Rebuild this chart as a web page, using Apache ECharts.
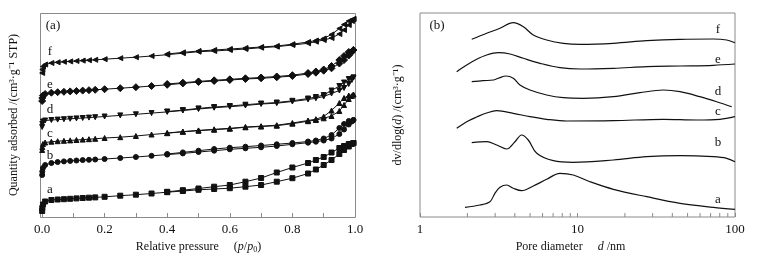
<!DOCTYPE html>
<html>
<head>
<meta charset="utf-8">
<script src="https://cdn.jsdelivr.net/npm/echarts@6/dist/echarts.min.js"></script>
<style>
  html, body { margin: 0; padding: 0; background: #fff; }
  #container { width: 771px; height: 261px; }
</style>
</head>
<body>
<div id="container"></div>
<script>
// (a) isotherms: shared pressure points for adsorption / desorption branches
const pAds = [0.0005, 0.001, 0.003, 0.01, 0.03, 0.05, 0.07, 0.09, 0.11, 0.13, 0.15, 0.17, 0.2, 0.25, 0.3, 0.35, 0.4, 0.45, 0.5, 0.55, 0.6, 0.65, 0.7, 0.75, 0.8, 0.85, 0.875, 0.9, 0.925, 0.95, 0.965, 0.98, 0.99, 0.995]
const pDes = [0.995, 0.98, 0.965, 0.95, 0.925, 0.9, 0.875, 0.85, 0.8, 0.75, 0.7, 0.65, 0.6, 0.55, 0.5, 0.45, 0.4]

const adsA = [6, 9, 12.5, 15.5, 17, 17.5, 17.8, 18.2, 18.6, 19, 19.3, 19.6, 20.2, 21.3, 22.3, 23.5, 24.8, 26, 27.2, 28, 28.8, 30.3, 32, 35.3, 38.8, 43.5, 47.5, 52, 57, 63, 67, 70.5, 73, 74]
const desA = [74, 73, 71, 69, 64.5, 60, 57, 54, 49.5, 44.5, 39, 35.3, 32, 30.3, 28.5, 26.8, 25.2]
const adsB = [42, 45.5, 49, 52, 54, 55, 55.6, 56.1, 56.5, 56.9, 57.2, 57.5, 58, 59, 60, 61.2, 62.4, 63.6, 65, 66.3, 67.7, 68.7, 69.7, 71, 72.7, 74.3, 75.3, 76.5, 78.5, 83, 87.5, 92.5, 95.5, 97]
const desB = [97, 96, 93, 89, 82, 78.5, 76.5, 75.5, 74, 72.7, 71.5, 70.3, 69.3, 68, 66.3, 64.6, 63]
const adsC = [67, 70, 73, 74.5, 75.3, 75.8, 76.2, 76.6, 77, 77.4, 77.8, 78.2, 79, 79.8, 81, 82.5, 83.8, 85.2, 86.3, 87.3, 88.3, 89.7, 90.5, 91.3, 93.3, 95.8, 97, 98.7, 101, 106, 112, 118, 121, 122.5]
const desC = [122.5, 121.5, 119, 114, 106.5, 100.5, 97.8, 96.5, 94, 91.8, 90.8, 90, 88.7, 87.7, 86.6, 85.4, 84]
const adsD = [90, 93, 95.5, 96.5, 97, 97.4, 97.8, 98.2, 98.6, 99, 99.4, 99.8, 100.5, 101.6, 102.7, 103.9, 105.1, 106.5, 108, 109.3, 110.3, 111.5, 113, 113.8, 115.5, 117.5, 118.7, 120.5, 123.5, 126.5, 129, 133, 137, 139.5]
const desD = [139.5, 138, 134.5, 131, 126.5, 122, 120, 118.5, 116.2, 114.5, 113.5, 112.3, 111, 110, 108.6, 106.9, 105.5]
const adsE = [116, 119, 121.5, 123, 124.3, 124.8, 125.2, 125.6, 126, 126.4, 126.8, 127.2, 127.8, 128.8, 129.8, 131, 132.2, 133.6, 135, 136, 137, 138, 138.7, 139.7, 141, 143, 144.3, 146.3, 148.7, 153.5, 157, 161.5, 165, 167]
const desE = [167, 165, 161, 157, 151, 147.5, 145.5, 144, 141.8, 140.5, 139.5, 138.7, 137.7, 136.7, 135.6, 134.3, 133]
const adsF = [144, 147.5, 150.5, 152.5, 154, 154.7, 155.2, 155.6, 156, 156.4, 156.8, 157.2, 157.8, 158.8, 159.8, 161, 162.3, 163.8, 165.3, 166, 167, 168, 169.3, 170.3, 172, 173.7, 175.3, 177, 179, 183, 187, 192, 196, 198]
const desF = [198, 196, 192.5, 188.5, 182.5, 178.5, 176.5, 175, 172.8, 171, 170, 169, 168, 167, 166, 164.6, 163]

// (b) pore size distributions: diameter (nm) and dv/dlog(d) (offset, arb. units)
const psdA_d = [1.93, 2.4, 2.78, 2.99, 3.22, 3.55, 3.91, 4.42, 5.24, 6.37, 7.74, 9.4, 12.0, 16.9, 27.5, 44.8, 72.8, 100]
const psdA_v = [9.7, 12, 15.3, 23.7, 29.7, 32, 28.7, 26.3, 31, 37.7, 43.7, 42, 35.3, 27.7, 20.3, 13.7, 9.7, 7.7]
const psdB_d = [2.13, 2.65, 3.07, 3.55, 4.01, 4.42, 4.87, 5.51, 7.02, 9.4, 16.9, 27.5, 44.8, 72.8, 88.6, 100]
const psdB_v = [74.3, 75.3, 72, 68, 75.3, 82, 77, 63.7, 56.3, 54.7, 57, 60.3, 61.3, 60.3, 58.7, 55.3]
const psdC_d = [1.71, 1.98, 2.29, 2.65, 3.07, 3.91, 4.99, 6.37, 8.54, 16.9, 35.1, 57.1, 80.3, 100]
const psdC_v = [88.7, 95.3, 100, 104, 106.3, 103.7, 100.3, 97.7, 96, 96.3, 97.7, 97, 97.7, 100.3]
const psdD_d = [2.13, 2.52, 2.92, 3.14, 3.52, 3.91, 4.31, 4.99, 6.37, 8.13, 10.9, 16.9, 24.9, 35.1, 44.8, 59.9, 76.5, 95.3]
const psdD_v = [135.3, 136.3, 137, 138.7, 141, 138.7, 132, 127, 122, 119.3, 118.7, 120.3, 124.3, 127, 125.3, 120.3, 115.3, 110.3]
const psdE_d = [1.71, 1.98, 2.29, 2.65, 3.14, 3.73, 4.53, 5.78, 7.74, 10.4, 16.9, 27.5, 44.8, 72.8, 100]
const psdE_v = [145.3, 152, 157.7, 162, 164.3, 163, 158.7, 153.7, 149.3, 148, 148.7, 150.3, 151, 151.7, 153]
const psdF_d = [2.13, 2.65, 3.22, 3.91, 4.53, 5.24, 6.37, 8.13, 10.4, 16.9, 27.5, 44.8, 72.8, 88.6, 100]
const psdF_v = [177.7, 183.7, 188.7, 194.3, 190.3, 182, 177, 173.7, 172.7, 173.7, 176.3, 177.7, 178, 177, 174.3]

const minorLog = [2, 3, 4, 5, 6, 7, 8, 9, 20, 30, 40, 50, 60, 70, 80, 90]
const sampleLabels = ['a', 'b', 'c', 'd', 'e', 'f']

const dom = document.getElementById('container')
const myChart = echarts.init(dom)

const ink = '#111'
const frame = '#8a8a8a'
const serif = 'Liberation Serif, Times New Roman, serif'

const zip = (xs, ys) => xs.map((x, i) => [x, ys[i]])

const iso = [
    { ads: adsA, des: desA, symbol: 'rect', rot: 0 },
    { ads: adsB, des: desB, symbol: 'circle', rot: 0 },
    { ads: adsC, des: desC, symbol: 'triangle', rot: 0 },
    { ads: adsD, des: desD, symbol: 'triangle', rot: 180 },
    { ads: adsE, des: desE, symbol: 'diamond', rot: 0 },
    { ads: adsF, des: desF, symbol: 'triangle', rot: 90 }
]

const series = []
iso.forEach((s, i) => {
    const common = {
        type: 'line',
        xAxisIndex: 0,
        yAxisIndex: 0,
        symbol: s.symbol,
        symbolRotate: s.rot,
        symbolSize: s.symbol === 'diamond' ? 7 : 5,
        lineStyle: { color: ink, width: 1 },
        itemStyle: { color: ink, borderColor: ink },
        clip: false,
        silent: true,
        animation: false
    }
    series.push(Object.assign({ name: sampleLabels[i] + '-ads', data: zip(pAds, s.ads) }, common))
    series.push(Object.assign({ name: sampleLabels[i] + '-des', data: zip(pDes, s.des) }, common))
})

const psd = [
    [psdA_d, psdA_v], [psdB_d, psdB_v], [psdC_d, psdC_v],
    [psdD_d, psdD_v], [psdE_d, psdE_v], [psdF_d, psdF_v]
]
psd.forEach((p, i) => {
    series.push({
        name: sampleLabels[i] + '-psd',
        type: 'line',
        xAxisIndex: 1,
        yAxisIndex: 1,
        smooth: 0.35,
        showSymbol: false,
        lineStyle: { color: ink, width: 1.2 },
        silent: true,
        animation: false,
        data: zip(p[0], p[1])
    })
})

// minor log ticks along the bottom of (b)
series.push({
    type: 'custom',
    xAxisIndex: 1,
    yAxisIndex: 1,
    silent: true,
    animation: false,
    data: minorLog.map(v => [v, 0]),
    renderItem: (params, api) => {
        const pt = api.coord([api.value(0), 0])
        return {
            type: 'line',
            shape: { x1: pt[0], y1: pt[1], x2: pt[0], y2: pt[1] - 4 },
            style: { stroke: frame, lineWidth: 1 }
        }
    }
})

const rich = {
    i: { fontFamily: serif, fontSize: 12, fontStyle: 'italic', color: ink },
    s: { fontFamily: serif, fontSize: 8, color: ink, verticalAlign: 'bottom', padding: [6, 0, 0, 0] }
}

const txt = (x, y, s, size) => ({
    type: 'text',
    x: x,
    y: y,
    style: { text: s, font: (size || 13) + 'px ' + serif, fill: ink, align: 'center', verticalAlign: 'middle' },
    silent: true
})

const labelsLeft = [[50, 190], [50, 156], [50, 134], [50, 110], [50, 85], [50, 52]]
const labelsRight = [[718, 200], [718, 143], [718, 112], [718, 92], [718, 60], [718, 30]]
const graphics = [
    // frame of panel (a); the value axis starts a little inside it
    {
        type: 'rect',
        shape: { x: 40.5, y: 13.5, width: 315, height: 204 },
        style: { fill: null, stroke: frame, lineWidth: 1 },
        silent: true
    },
    txt(53, 26, '(a)'),
    txt(437, 26, '(b)')
]
sampleLabels.forEach((l, i) => {
    graphics.push(txt(labelsLeft[i][0], labelsLeft[i][1], l))
    graphics.push(txt(labelsRight[i][0], labelsRight[i][1], l))
})

const option = {
    backgroundColor: '#fff',
    animation: false,
    textStyle: { fontFamily: serif, color: ink },
    grid: [
        { left: 42, top: 13, width: 313, height: 204 },
        { left: 420, top: 13, width: 315, height: 204, show: true, borderColor: frame, borderWidth: 1 }
    ],
    xAxis: [
        {
            gridIndex: 0,
            type: 'value',
            min: 0,
            max: 1,
            interval: 0.1,
            axisLine: { show: false },
            axisTick: { show: true, inside: true, length: 4, lineStyle: { color: frame } },
            splitLine: { show: false },
            axisLabel: {
                interval: 1,
                margin: 6,
                fontFamily: serif,
                fontSize: 13,
                color: ink,
                formatter: (v) => (Math.round(v * 10) % 2 === 0 ? v.toFixed(1) : '')
            },
            name: 'Relative pressure     ({i|p}/{i|p}{s|0})',
            nameLocation: 'middle',
            nameGap: 22,
            nameTextStyle: { fontFamily: serif, fontSize: 12, color: ink, rich: rich }
        },
        {
            gridIndex: 1,
            type: 'log',
            logBase: 10,
            min: 1,
            max: 100,
            axisLine: { show: false },
            axisTick: { show: true, inside: true, length: 4, lineStyle: { color: frame } },
            splitLine: { show: false },
            axisLabel: { margin: 6, fontFamily: serif, fontSize: 13, color: ink },
            name: 'Pore diameter     {i|d} /nm',
            nameLocation: 'middle',
            nameGap: 22,
            nameTextStyle: { fontFamily: serif, fontSize: 12, color: ink, rich: rich, padding: [0, 14, 0, 0] }
        }
    ],
    yAxis: [
        {
            gridIndex: 0,
            type: 'value',
            min: 0,
            max: 204,
            axisLine: { show: false },
            axisTick: { show: false },
            axisLabel: { show: false },
            splitLine: { show: false },
            name: 'Quantity adsorbed /(cm³·g⁻¹ STP)',
            nameLocation: 'middle',
            nameGap: 22,
            nameTextStyle: { fontFamily: serif, fontSize: 12, color: ink }
        },
        {
            gridIndex: 1,
            type: 'value',
            min: 0,
            max: 204,
            axisLine: { show: false },
            axisTick: { show: false },
            axisLabel: { show: false },
            splitLine: { show: false },
            name: 'dv/dlog({i|d}) /(cm³·g⁻¹)',
            nameLocation: 'middle',
            nameGap: 16,
            nameTextStyle: {
                fontFamily: serif, fontSize: 12, color: ink,
                rich: { i: { fontFamily: serif, fontSize: 12, fontStyle: 'italic', color: ink } }
            }
        }
    ],
    graphic: graphics,
    series: series
}

myChart.setOption(option)
</script>
</body>
</html>
